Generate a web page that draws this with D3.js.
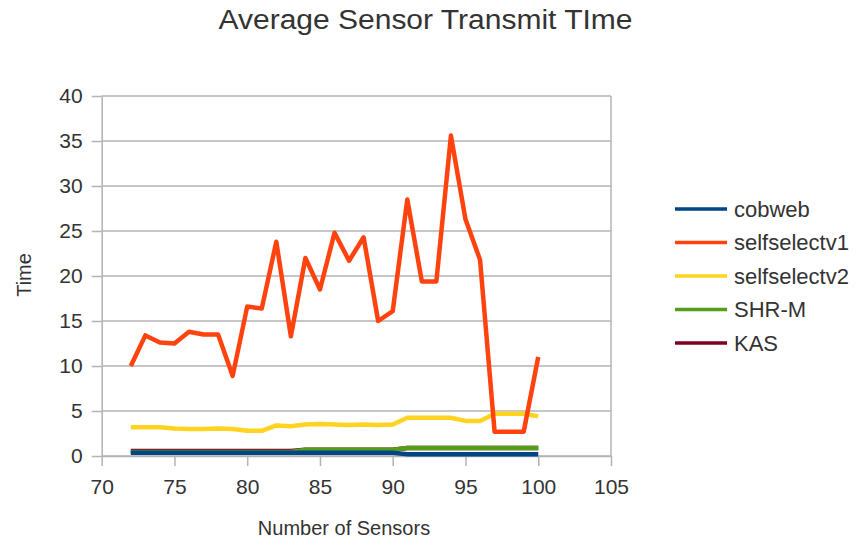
<!DOCTYPE html>
<html>
<head>
  <meta charset="utf-8">
  <title>Average Sensor Transmit TIme</title>
  <script src="https://d3js.org/d3.v7.min.js"></script>
  <style>
    body { margin: 0; background: #ffffff; font-family: 'Liberation Sans', Arial, sans-serif; }
    .grid line { stroke: #b3b3b3; stroke-width: 1.5px; }
    .axis path, .axis line { stroke: #b3b3b3; stroke-width: 1.5px; }
    .axis text { fill: #333333; font-size: 21px; font-family: 'Liberation Sans', Arial, sans-serif; }
    .series { fill: none; stroke-width: 4.5px; stroke-linejoin: round; }
    .label { fill: #333333; font-family: 'Liberation Sans', Arial, sans-serif; }
  </style>
</head>
<body>
  <div id="chart"></div>
  <script>
    // Values
    const sensors = [72, 73, 74, 75, 76, 77, 78, 79, 80, 81, 82, 83, 84, 85, 86, 87, 88, 89, 90, 91, 92, 93, 94, 95, 96, 97, 98, 99, 100];
    const cobweb = [0.35, 0.35, 0.35, 0.35, 0.35, 0.35, 0.35, 0.35, 0.35, 0.35, 0.35, 0.35, 0.35, 0.35, 0.35, 0.35, 0.35, 0.35, 0.35, 0.2, 0.2, 0.2, 0.2, 0.2, 0.2, 0.2, 0.2, 0.2, 0.2];
    const selfselectv1 = [10.0, 13.4, 12.6, 12.5, 13.8, 13.5, 13.5, 8.9, 16.6, 16.4, 23.8, 13.3, 22.0, 18.5, 24.8, 21.7, 24.3, 15.0, 16.1, 28.5, 19.4, 19.4, 35.6, 26.3, 21.8, 2.7, 2.7, 2.7, 11.0];
    const selfselectv2 = [3.2, 3.2, 3.2, 3.05, 3.0, 3.0, 3.05, 3.0, 2.8, 2.8, 3.4, 3.3, 3.5, 3.55, 3.5, 3.45, 3.5, 3.45, 3.5, 4.25, 4.25, 4.25, 4.25, 3.9, 3.9, 4.7, 4.7, 4.7, 4.4];
    const shrm = [0.45, 0.45, 0.45, 0.45, 0.45, 0.45, 0.45, 0.45, 0.45, 0.45, 0.45, 0.45, 0.7, 0.7, 0.7, 0.7, 0.7, 0.7, 0.7, 0.9, 0.9, 0.9, 0.9, 0.9, 0.9, 0.9, 0.9, 0.9, 0.9];
    const kas = [0.55, 0.55, 0.55, 0.55, 0.55, 0.55, 0.55, 0.55, 0.55, 0.55, 0.55, 0.55, 0.7, 0.7, 0.7, 0.7, 0.7, 0.7, 0.7, 0.9, 0.9, 0.9, 0.9, 0.9, 0.9, 0.9, 0.9, 0.9, 0.9];

    const seriesNames = ["cobweb", "selfselectv1", "selfselectv2", "SHR-M", "KAS"];
    const seriesValues = [cobweb, selfselectv1, selfselectv2, shrm, kas];
    const seriesColors = ["#004586", "#ff420e", "#ffd320", "#579d1c", "#7e0021"];

    const xTicks = [70, 75, 80, 85, 90, 95, 100, 105];
    const yTicks = [0, 5, 10, 15, 20, 25, 30, 35, 40];

    const width = 862, height = 543;
    const plot = { left: 101.7, right: 611, top: 96, bottom: 456 };

    const svg = d3.select("#chart")
      .append("svg")
      .attr("width", width)
      .attr("height", height);

    const x = d3.scaleLinear().domain([70, 105]).range([plot.left, plot.right]);
    const y = d3.scaleLinear().domain([0, 40]).range([plot.bottom, plot.top]);

    // horizontal grid lines
    svg.append("g")
      .attr("class", "grid")
      .selectAll("line")
      .data(yTicks)
      .join("line")
      .attr("x1", plot.left)
      .attr("x2", plot.right)
      .attr("y1", d => y(d))
      .attr("y2", d => y(d));

    // right frame edge
    svg.append("g")
      .attr("class", "grid")
      .append("line")
      .attr("x1", plot.right).attr("x2", plot.right)
      .attr("y1", plot.top).attr("y2", plot.bottom);

    // axes
    svg.append("g")
      .attr("class", "axis")
      .attr("transform", `translate(0, ${plot.bottom})`)
      .call(d3.axisBottom(x).tickValues(xTicks).tickSize(10).tickPadding(8).tickSizeOuter(0))
      .call(g => g.selectAll("text").attr("dy", "0.95em"));

    svg.append("g")
      .attr("class", "axis")
      .attr("transform", `translate(${plot.left}, 0)`)
      .call(d3.axisLeft(y).tickValues(yTicks).tickSize(10).tickPadding(9).tickSizeOuter(0));

    // lines, drawn last-to-first so cobweb sits on top
    const line = d3.line()
      .x((d, i) => x(sensors[i]))
      .y(d => y(d));

    const order = d3.range(seriesNames.length).reverse();
    svg.append("g")
      .selectAll("path")
      .data(order)
      .join("path")
      .attr("class", "series")
      .attr("stroke", i => seriesColors[i])
      .attr("d", i => line(seriesValues[i]));

    // title
    svg.append("text")
      .attr("class", "label")
      .attr("x", 425.5)
      .attr("y", 28.5)
      .attr("text-anchor", "middle")
      .attr("font-size", 27)
      .attr("textLength", 414)
      .attr("lengthAdjust", "spacingAndGlyphs")
      .text("Average Sensor Transmit TIme");

    // axis titles
    svg.append("text")
      .attr("class", "label")
      .attr("x", 344)
      .attr("y", 535)
      .attr("text-anchor", "middle")
      .attr("font-size", 20)
      .text("Number of Sensors");

    svg.append("text")
      .attr("class", "label")
      .attr("transform", "translate(31, 275) rotate(-90)")
      .attr("text-anchor", "middle")
      .attr("font-size", 20)
      .text("Time");

    // legend
    const legend = svg.append("g")
      .selectAll("g")
      .data(seriesNames)
      .join("g")
      .attr("transform", (d, i) => `translate(675, ${209 + i * 33.5})`);

    legend.append("line")
      .attr("x1", 0).attr("x2", 52)
      .attr("stroke", (d, i) => seriesColors[i])
      .attr("stroke-width", 3.5);

    legend.append("text")
      .attr("class", "label")
      .attr("x", 59)
      .attr("dy", "0.36em")
      .attr("font-size", 22)
      .text(d => d);
  </script>
</body>
</html>
